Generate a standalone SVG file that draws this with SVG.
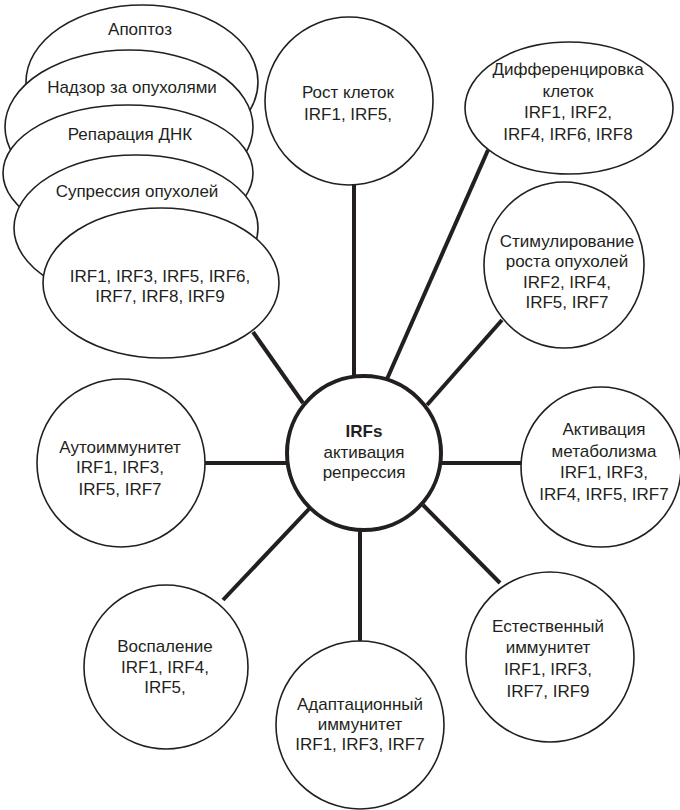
<svg xmlns="http://www.w3.org/2000/svg" width="680" height="810" viewBox="0 0 680 810">
<style>
.n{fill:#fff;stroke:#231f20;stroke-width:1.6}
.c{fill:#fff;stroke:#231f20;stroke-width:4}
.e{stroke:#231f20;stroke-width:4;fill:none}
text{font-family:"Liberation Sans",Arial,Helvetica,sans-serif;font-size:17px;fill:#231f20;text-anchor:middle}
.b{font-weight:bold}
</style>
<rect width="680" height="810" fill="#fff"/>
<g id="connectors">
<line class="e" x1="354" y1="185" x2="354" y2="378"/>
<line class="e" x1="488" y1="150" x2="387" y2="379"/>
<line class="e" x1="502" y1="320" x2="427" y2="405"/>
<line class="e" x1="441" y1="463" x2="521" y2="463"/>
<line class="e" x1="500" y1="583" x2="423" y2="505"/>
<line class="e" x1="360" y1="528" x2="360" y2="642"/>
<line class="e" x1="310" y1="508" x2="223" y2="600"/>
<line class="e" x1="205" y1="463" x2="288" y2="463"/>
<line class="e" x1="253" y1="332" x2="303" y2="403"/>
</g>
<g id="apoptoz"><ellipse class="n" cx="142" cy="82" rx="116" ry="77"/><text x="140" y="35">Апоптоз</text></g>
<g id="nadzor"><ellipse class="n" cx="129" cy="127" rx="124" ry="77"/><text x="132" y="93">Надзор за опухолями</text></g>
<g id="reparaciya"><ellipse class="n" cx="128" cy="173" rx="125" ry="68"/><text x="130" y="140">Репарация ДНК</text></g>
<g id="supressiya"><ellipse class="n" cx="136" cy="228" rx="122" ry="73"/><text x="137" y="197">Супрессия опухолей</text></g>
<g id="irf-supp"><ellipse class="n" cx="161" cy="283" rx="118" ry="75"/><text x="160" y="282">IRF1, IRF3, IRF5, IRF6,</text><text x="160" y="302">IRF7, IRF8, IRF9</text></g>
<g id="rost"><circle class="n" cx="349" cy="101" r="84"/><text x="348" y="98">Рост клеток</text><text x="348" y="120">IRF1, IRF5,</text></g>
<g id="diff"><ellipse class="n" cx="569" cy="108" rx="104" ry="66"/><text x="568" y="75">Дифференцировка</text><text x="568" y="97">клеток</text><text x="568" y="118">IRF1, IRF2,</text><text x="568" y="140">IRF4, IRF6, IRF8</text></g>
<g id="stim"><ellipse class="n" cx="564" cy="265" rx="80" ry="83"/><text x="567" y="247">Стимулирование</text><text x="567" y="267">роста опухолей</text><text x="567" y="288">IRF2, IRF4,</text><text x="567" y="308">IRF5, IRF7</text></g>
<g id="metab"><circle class="n" cx="601" cy="467" r="80"/><text x="604" y="435">Активация</text><text x="604" y="457">метаболизма</text><text x="604" y="478">IRF1, IRF3,</text><text x="604" y="500">IRF4, IRF5, IRF7</text></g>
<g id="estestv"><ellipse class="n" cx="550" cy="657" rx="84" ry="85"/><text x="548" y="632">Естественный</text><text x="548" y="653">иммунитет</text><text x="548" y="675">IRF1, IRF3,</text><text x="548" y="697">IRF7, IRF9</text></g>
<g id="adapt"><circle class="n" cx="360" cy="725" r="84"/><text x="360" y="710">Адаптационный</text><text x="360" y="730">иммунитет</text><text x="360" y="750">IRF1, IRF3, IRF7</text></g>
<g id="vospal"><circle class="n" cx="166" cy="667" r="82"/><text x="165" y="652">Воспаление</text><text x="165" y="673">IRF1, IRF4,</text><text x="165" y="693">IRF5,</text></g>
<g id="autoimm"><circle class="n" cx="121" cy="463" r="84"/><text x="120" y="453">Аутоиммунитет</text><text x="120" y="473">IRF1, IRF3,</text><text x="120" y="495">IRF5, IRF7</text></g>
<g id="center"><circle class="c" cx="364" cy="453" r="77"/><text class="b" x="364" y="437">IRFs</text><text x="364" y="458">активация</text><text x="364" y="478">репрессия</text></g>
</svg>
